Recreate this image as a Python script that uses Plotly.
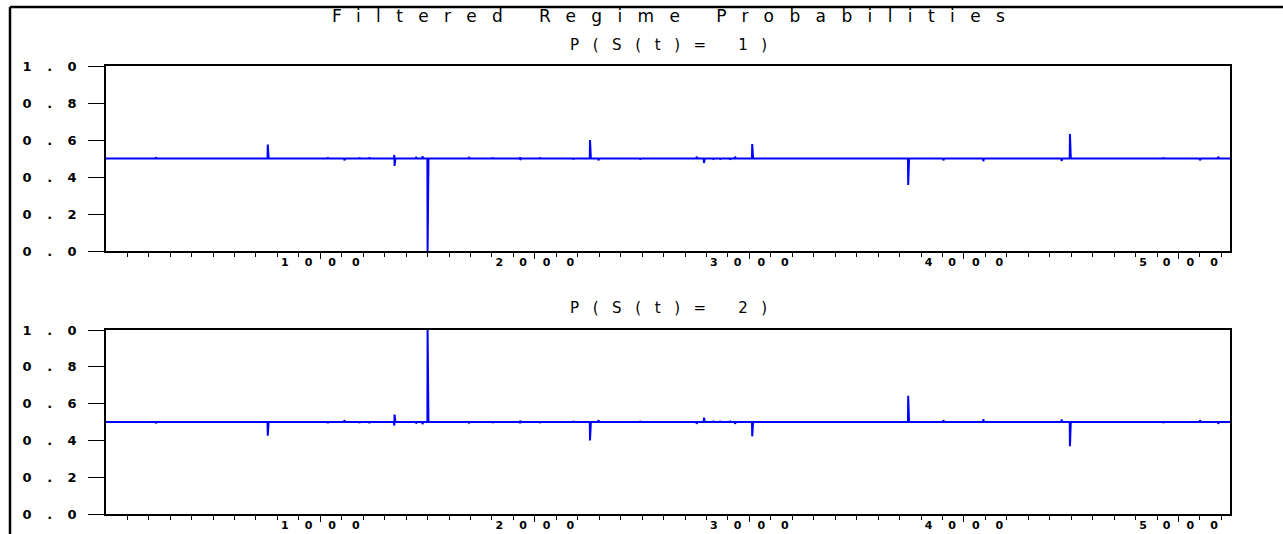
import plotly.graph_objects as go

# ---------------- data ----------------
n_obs = 5240
base_prob = 0.5  # filtered probability of regime 1 away from the spikes

spike_obs = [755, 1344, 1345, 1346, 1500, 2257, 3013, 3740, 4494]
spike_p1 = [0.575, 0.512, 0.519, 0.46, 0.0, 0.600, 0.578, 0.357, 0.632]

small_obs = [172, 234, 584, 1034, 1112, 1182, 1228, 1446, 1476, 1624, 1694, 1803,
             1931, 1932, 2024, 2140, 2179, 2296, 2389, 2490, 2684, 2754, 2788,
             2832, 2863, 2910, 2933, 3477, 3857, 3904, 4090, 4455, 4743, 4929,
             5100, 5185]
small_p1 = [0.504, 0.507, 0.497, 0.506, 0.490, 0.505, 0.506, 0.508, 0.512, 0.496,
            0.504, 0.505, 0.508, 0.492, 0.505, 0.504, 0.495, 0.490, 0.496, 0.495,
            0.496, 0.510, 0.476, 0.494, 0.495, 0.494, 0.510, 0.496, 0.504, 0.490,
            0.485, 0.487, 0.504, 0.505, 0.490, 0.510]

x_tick_vals = [1000, 2000, 3000, 4000, 5000]
x_tick_labels = ["1000", "2000", "3000", "4000", "5000"]
y_tick_vals = [0.0, 0.2, 0.4, 0.6, 0.8, 1.0]
y_tick_labels = ["0.0", "0.2", "0.4", "0.6", "0.8", "1.0"]

main_title = "Filtered Regime Probabilities"
panel_titles = ["P(S(t)= 1)", "P(S(t)= 2)"]

# ---------------- series ----------------
obs = list(range(1, n_obs + 1))
p1 = [base_prob] * n_obs
for o, v in zip(small_obs, small_p1):
    p1[o - 1] = v
for o, v in zip(spike_obs, spike_p1):
    p1[o - 1] = v
p2 = [1.0 - v for v in p1]

# ---------------- layout helpers ----------------
W, H = 1283, 534
L, R, T, B = 106, 53, 66, 20
PW, PH = W - L - R, H - T - B


def px_x(px):
    return (px - L) / PW


def px_y(py):
    return (H - B - py) / PH


def spaced(s, gap):
    return f'<span style="letter-spacing:{gap}px">{s[:-1]}</span>{s[-1]}'


FONT = "DejaVu Sans, Liberation Sans, Arial, sans-serif"
BLUE = "#0000FF"

fig = go.Figure()
fig.add_trace(go.Scatter(x=obs, y=p1, mode="lines", line=dict(color=BLUE, width=2),
                         xaxis="x", yaxis="y", showlegend=False, hoverinfo="skip"))
fig.add_trace(go.Scatter(x=obs, y=p2, mode="lines", line=dict(color=BLUE, width=2),
                         xaxis="x2", yaxis="y2", showlegend=False, hoverinfo="skip"))

xaxis_common = dict(
    range=[1, n_obs], showgrid=False, zeroline=False, automargin=False,
    showline=True, linecolor="black", linewidth=1.5, mirror=True,
    ticks="outside", ticklen=6, tickwidth=1, tickcolor="black",
    tickmode="array", tickvals=x_tick_vals,
    ticktext=[spaced(t, 16) for t in x_tick_labels],
    tickfont=dict(family=FONT, size=11, color="black", weight="bold"),
    ticklabelstandoff=-6,
    minor=dict(tickmode="linear", tick0=0, dtick=100, ticks="outside",
               ticklen=4, tickwidth=1, tickcolor="black", showgrid=False),
)
yaxis_common = dict(
    range=[0, 1], showgrid=False, zeroline=False, automargin=False,
    showline=True, linecolor="black", linewidth=1.5, mirror=True,
    ticks="outside", ticklen=16, tickwidth=1, tickcolor="black",
    tickmode="array", tickvals=y_tick_vals,
    ticktext=[spaced(t, 15.5) for t in y_tick_labels],
    tickfont=dict(family=FONT, size=13, color="black", weight="bold"),
    ticklabelstandoff=9,
)

fig.update_layout(
    width=W, height=H,
    margin=dict(l=L, r=R, t=T, b=B, pad=0),
    paper_bgcolor="white", plot_bgcolor="white",
    xaxis=dict(xaxis_common, domain=[0, 1], anchor="y"),
    yaxis=dict(yaxis_common, domain=[px_y(251), 1], anchor="x"),
    xaxis2=dict(xaxis_common, domain=[0, 1], anchor="y2"),
    yaxis2=dict(yaxis_common, domain=[0, px_y(330)], anchor="x2"),
    annotations=[
        dict(text=spaced(main_title, 15.4), x=0.5, y=px_y(16), xref="paper", yref="paper",
             xanchor="center", yanchor="middle", showarrow=False,
             font=dict(family=FONT, size=17, color="black")),
        dict(text=spaced(panel_titles[0], 13.6), x=0.5, y=px_y(45), xref="paper", yref="paper",
             xanchor="center", yanchor="middle", showarrow=False,
             font=dict(family=FONT, size=15, color="black")),
        dict(text=spaced(panel_titles[1], 13.6), x=0.5, y=px_y(308), xref="paper", yref="paper",
             xanchor="center", yanchor="middle", showarrow=False,
             font=dict(family=FONT, size=15, color="black")),
    ],
    shapes=[
        dict(type="line", xref="paper", yref="paper", x0=px_x(10), x1=px_x(W + 5),
             y0=px_y(7), y1=px_y(7), line=dict(color="black", width=2.5)),
        dict(type="line", xref="paper", yref="paper", x0=px_x(10), x1=px_x(10),
             y0=px_y(7), y1=px_y(H + 5), line=dict(color="black", width=2.5)),
    ],
)

fig.write_html("out.html")
